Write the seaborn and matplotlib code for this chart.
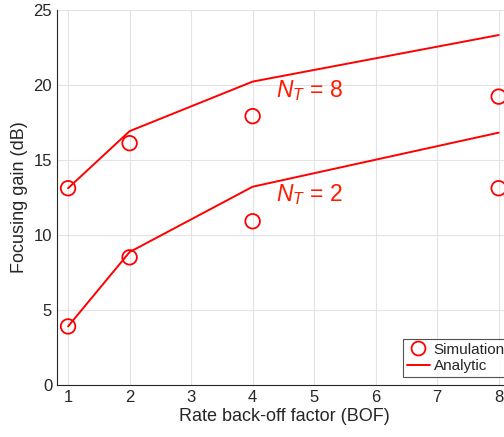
import matplotlib
matplotlib.use("Agg")
import matplotlib.pyplot as plt
import seaborn as sns
import pandas as pd
from matplotlib.lines import Line2D

bof = [1, 2, 4, 8]
sim_nt8 = [13.1, 16.1, 17.9, 19.2]
sim_nt2 = [3.9, 8.5, 10.9, 13.1]
ana_nt8 = [13.1, 16.9, 20.2, 23.3]
ana_nt2 = [3.9, 8.85, 13.2, 16.8]
xticks = [1, 2, 3, 4, 5, 6, 7, 8]
yticks = [0, 5, 10, 15, 20, 25]

sns.set_style("white")
plt.rcParams['font.family'] = ['Liberation Sans', 'DejaVu Sans']
plt.rcParams['mathtext.fontset'] = 'custom'
plt.rcParams['mathtext.rm'] = 'Liberation Sans'
plt.rcParams['mathtext.it'] = 'Liberation Sans:italic'

fig = plt.figure(figsize=(5.04, 4.37), dpi=100)
ax = fig.add_axes([57/504, 52/437, 454/504, 375.5/437])

sim = pd.DataFrame({"x": bof * 2, "y": sim_nt8 + sim_nt2, "g": ["8"] * 4 + ["2"] * 4})
ana = pd.DataFrame({"x": bof * 2, "y": ana_nt8 + ana_nt2, "g": ["8"] * 4 + ["2"] * 4})

sns.lineplot(data=ana, x="x", y="y", units="g", estimator=None, color="#ff0000",
             lw=1.4, ax=ax, legend=False)
sns.scatterplot(data=sim, x="x", y="y", marker="o", s=110, facecolors="none",
                edgecolor="#ff0000", linewidth=1.3, ax=ax, legend=False)

ax.set_xlim(0.82, 8.2)
ax.set_ylim(0, 25)
ax.set_xticks(xticks)
ax.set_yticks(yticks)
ax.grid(True, color="#e3e3e3", lw=0.8)
ax.set_axisbelow(True)
for s in ["top", "right"]:
    ax.spines[s].set_visible(False)
for s in ["left", "bottom"]:
    ax.spines[s].set_color("#262626")
    ax.spines[s].set_linewidth(0.8)
ax.tick_params(direction="in", length=4, labelsize=12, colors="#262626", width=0.8)
ax.set_xlabel("Rate back-off factor (BOF)", fontsize=13, color="#262626", labelpad=2)
ax.set_ylabel("Focusing gain (dB)", fontsize=13, color="#262626", labelpad=4)

ax.text(4.38, 19.6, r"$N_T$ = 8", color="#ff1a00", fontsize=16.5, va="center", ha="left")
ax.text(4.38, 12.65, r"$N_T$ = 2", color="#ff1a00", fontsize=16.5, va="center", ha="left")

handles = [
    Line2D([], [], marker="o", ls="none", mfc="none", mec="#ff0000", ms=10, mew=1.3),
    Line2D([], [], color="#ff0000", lw=1.4),
]
leg = ax.legend(handles, ["Simulation", "Analytic"], loc="upper left",
                bbox_to_anchor=(403/504, 1 - 339/437), bbox_transform=fig.transFigure,
                borderaxespad=0, fontsize=11, frameon=True, fancybox=False,
                handlelength=1.5, handletextpad=0.25, borderpad=0.25, labelspacing=0.15)
leg.get_frame().set_edgecolor("#262626")
leg.get_frame().set_linewidth(0.8)

fig.savefig("out.png", dpi=100)
